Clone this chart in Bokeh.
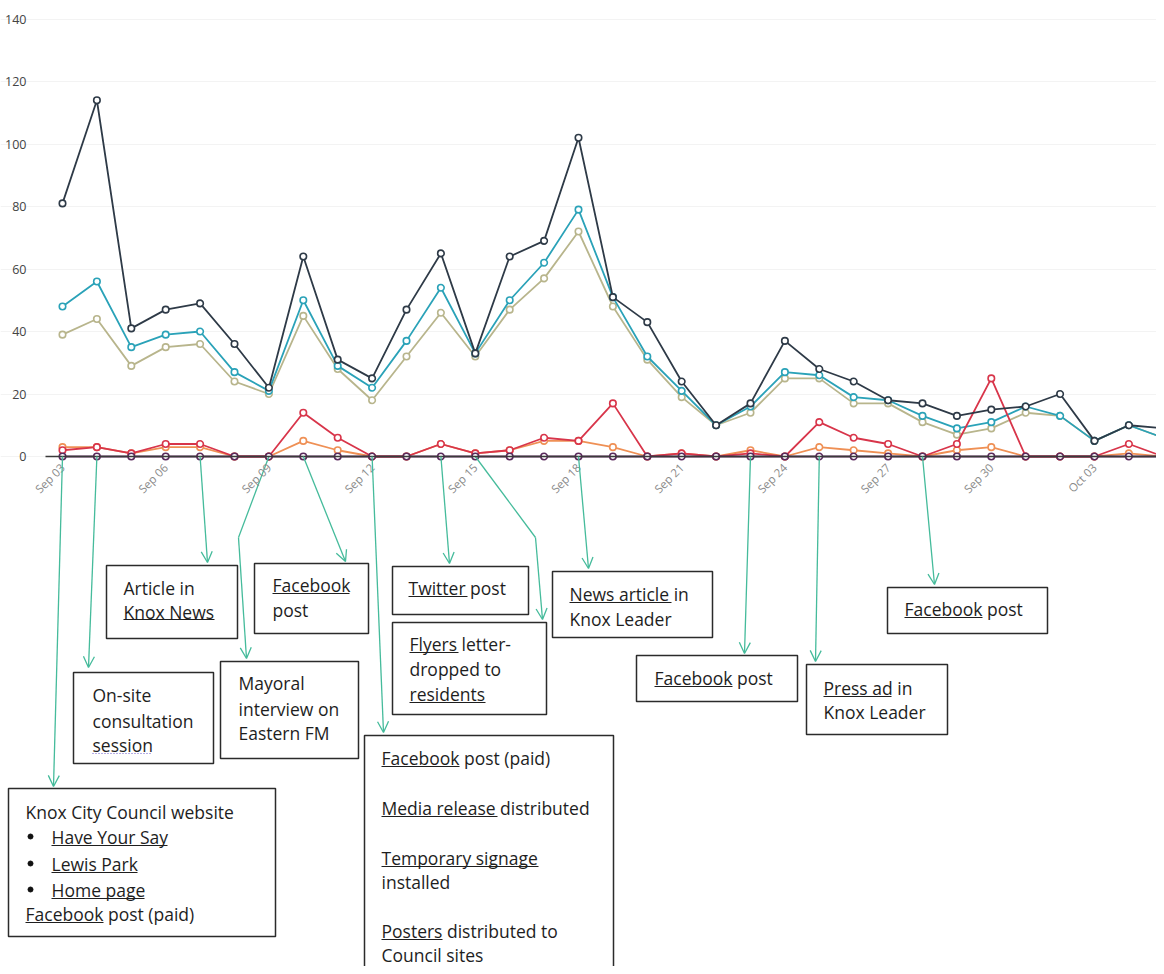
from bokeh.plotting import figure
from bokeh.models import Range1d, FixedTicker, Arrow, OpenHead, LinearAxis, Grid
from bokeh.core.properties import value
from bokeh.embed import file_html
from bokeh.resources import INLINE
import math

# ---------------- data ----------------
dates = ["Sep 03", "Sep 04", "Sep 05", "Sep 06", "Sep 07", "Sep 08", "Sep 09", "Sep 10",
         "Sep 11", "Sep 12", "Sep 13", "Sep 14", "Sep 15", "Sep 16", "Sep 17", "Sep 18",
         "Sep 19", "Sep 20", "Sep 21", "Sep 22", "Sep 23", "Sep 24", "Sep 25", "Sep 26",
         "Sep 27", "Sep 28", "Sep 29", "Sep 30", "Oct 01", "Oct 02", "Oct 03", "Oct 04", "Oct 05"]

total = [81, 114, 41, 47, 49, 36, 22, 64, 31, 25, 47, 65, 33, 64, 69, 102, 51, 43, 24, 10,
         17, 37, 28, 24, 18, 17, 13, 15, 16, 20, 5, 10, 9]
teal = [48, 56, 35, 39, 40, 27, 21, 50, 29, 22, 37, 54, 33, 50, 62, 79, 51, 32, 21, 10,
        16, 27, 26, 19, 18, 13, 9, 11, 16, 13, 5, 10, 6]
olive = [39, 44, 29, 35, 36, 24, 20, 45, 28, 18, 32, 46, 32, 47, 57, 72, 48, 31, 19, 10,
         14, 25, 25, 17, 17, 11, 7, 9, 14, 13, 5, 10, 6]
red = [2, 3, 1, 4, 4, 0, 0, 14, 6, 0, 0, 4, 1, 2, 6, 5, 17, 0, 1, 0,
       1, 0, 11, 6, 4, 0, 4, 25, 0, 0, 0, 4, 0]
orange = [3, 3, 1, 3, 3, 0, 0, 5, 2, 0, 0, 4, 1, 2, 5, 5, 3, 0, 1, 0,
          2, 0, 3, 2, 1, 0, 2, 3, 0, 0, 0, 1, 0]
purple = [0] * 33

yticks = [0, 20, 40, 60, 80, 100, 120, 140]
xtick_idx = [0, 3, 6, 9, 12, 15, 18, 21, 24, 27, 30]

# ---------------- layout mapping (reference pixels -> data) ----------------
W, H = 1156, 966
X0, PXD = 62.0, 34.4     # pixel of first date, pixels per day
Y0, PXU = 456.0, 3.125   # pixel of zero, pixels per unit


def dx(X):
    return (X - X0) / PXD


def dy(Y):
    return (Y0 - Y) / PXU


p = figure(width=W, height=H, output_backend="svg", toolbar_location=None,
           x_range=Range1d(dx(0), dx(W)), y_range=Range1d(dy(H), dy(0)),
           min_border=0, x_axis_location=None, y_axis_location=None)
p.outline_line_color = None
p.background_fill_color = "white"
p.border_fill_color = "white"
for g in p.grid:
    g.visible = False

# axes
xa = LinearAxis(fixed_location=0, ticker=FixedTicker(ticks=xtick_idx),
                major_label_overrides={i: dates[i] for i in xtick_idx},
                bounds=(dx(45), dx(1170)))
xa.axis_line_color = "#3a3a3a"
xa.axis_line_width = 1.5
xa.major_tick_line_color = None
xa.minor_tick_line_color = None
xa.major_label_orientation = math.pi / 4
xa.major_label_text_font = "Open Sans"
xa.major_label_text_font_size = "11.5px"
xa.major_label_text_color = "#8a8a8a"
xa.major_label_standoff = 3
p.add_layout(xa, "below")

ya = LinearAxis(fixed_location=dx(36), ticker=FixedTicker(ticks=yticks))
ya.axis_line_color = None
ya.major_tick_line_color = None
ya.minor_tick_line_color = None
ya.major_label_text_font = "Open Sans"
ya.major_label_text_font_size = "12.5px"
ya.major_label_text_color = "#444444"
ya.major_label_standoff = 4
p.add_layout(ya, "left")

p.add_layout(Grid(dimension=1, ticker=ya.ticker, grid_line_color="#f3f3f3",
                  bounds=(dx(150), dx(1164))))

# ---------------- series ----------------
xs = list(range(len(dates)))
series = [
    (olive, "#b8b58c"),
    (teal, "#2aa2b8"),
    (orange, "#ef9055"),
    (red, "#d8354a"),
    (total, "#2e3a47"),
    (purple, "#5a2a5c"),
]
for vals, col in series:
    p.line(xs, vals, line_color=col, line_width=1.8)
    p.scatter(xs, vals, marker="circle", size=6.5, fill_color="white",
              line_color=col, line_width=1.6)

# ---------------- annotation arrows ----------------
G = "#45bb9b"
arrows = [  # (date index, end X, end Y, bend point or None)
    (0, 53, 786, None),
    (1, 88, 667, None),
    (4, 207, 562, None),
    (6, 246, 658, (238, 537)),
    (7, 345, 561, None),
    (9, 383, 732, None),
    (11, 449, 563, None),
    (12, 542, 619, (535, 537)),
    (15, 588, 568, None),
    (20, 744, 653, None),
    (22, 815, 661, None),
    (25, 934, 584, None),
]
for di, ex, ey, bend in arrows:
    sx, sy = di, 0
    if bend is not None:
        p.segment(x0=[sx], y0=[sy], x1=[dx(bend[0])], y1=[dy(bend[1])],
                  line_color=G, line_width=1.3)
        sx, sy = dx(bend[0]), dy(bend[1])
    p.add_layout(Arrow(end=OpenHead(size=11, line_color=G, line_width=1.3),
                       x_start=sx, y_start=sy, x_end=dx(ex), y_end=dy(ey),
                       line_color=G, line_width=1.3))

# ---------------- annotation boxes ----------------
boxes = [
    # (left, top, right, bottom), lines [(x, y, text)], underlines [(x1, x2, y)]
    ((106, 565, 237, 638), [(123, 587, "Article in"), (123, 611, "Knox News")],
     [(123, 214, 619)]),
    ((254, 563, 368, 633), [(272, 584, "Facebook"), (272, 609, "post")],
     [(272, 349, 593)]),
    ((73, 672, 213, 763), [(92, 694, "On-site"), (92, 720, "consultation"), (92, 744, "session")],
     []),
    ((220, 661, 358, 758), [(238, 682, "Mayoral"), (238, 708, "interview on"), (238, 732, "Eastern FM")],
     []),
    ((8, 788, 275, 936), [(25, 811, "Knox City Council website"), (51, 836, "Have Your Say"),
                          (51, 863, "Lewis Park"), (51, 889, "Home page"),
                          (25, 913, "Facebook post (paid)")],
     [(51, 167, 845), (51, 137, 872), (51, 144, 898), (25, 103, 922)]),
    ((392, 566, 528, 614), [(408, 587, "Twitter post")], [(408, 467, 596)]),
    ((392, 622, 546, 714), [(409, 643, "Flyers letter-"), (409, 668, "dropped to"), (409, 693, "residents")],
     [(409, 458, 652), (409, 485, 702)]),
    ((552, 571, 712, 637), [(569, 593, "News article in"), (569, 618, "Knox Leader")],
     [(569, 671, 602)]),
    ((364, 735, 613, 995), [(381, 757, "Facebook post (paid)"), (381, 807, "Media release distributed"),
                            (381, 857, "Temporary signage"), (381, 881, "installed"),
                            (381, 930, "Posters distributed to"), (381, 954, "Council sites")],
     [(381, 459, 766), (381, 497, 816), (381, 538, 866), (381, 442, 939)]),
    ((636, 655, 797, 701), [(654, 677, "Facebook post")], [(654, 732, 686)]),
    ((806, 664, 947, 734), [(823, 687, "Press ad in"), (823, 711, "Knox Leader")], [(823, 891, 696)]),
    ((887, 587, 1047, 633), [(904, 608, "Facebook post")], [(904, 982, 617)]),
]

for (l, t, r, b), lines, unds in boxes:
    p.quad(left=[dx(l)], right=[dx(r)], top=[dy(t)], bottom=[dy(b)],
           fill_color="white", line_color="#2b2b2b", line_width=1.5)
    p.text(x=[dx(x) for x, y, s in lines], y=[dy(y) for x, y, s in lines],
           text=[s for x, y, s in lines], text_font=value("Open Sans"), text_font_size="17.5px",
           text_baseline="middle", text_align="left", text_color="#1e1e1e")
    if unds:
        p.segment(x0=[dx(a) for a, c, y in unds], x1=[dx(c) for a, c, y in unds],
                  y0=[dy(y) for a, c, y in unds], y1=[dy(y) for a, c, y in unds],
                  line_color="#1e1e1e", line_width=1.2)

# bullets in website box
p.scatter(x=[dx(30)] * 3, y=[dy(836), dy(863), dy(889)], marker="circle", size=5,
          fill_color="#111111", line_color="#111111")
# spell-check squiggle under "session"
p.segment(x0=[dx(92)], x1=[dx(150)], y0=[dy(753)], y1=[dy(753)],
          line_color="#6a5acd", line_width=1.2, line_dash="1 2")

open("out.html", "w").write(file_html(p, INLINE))
